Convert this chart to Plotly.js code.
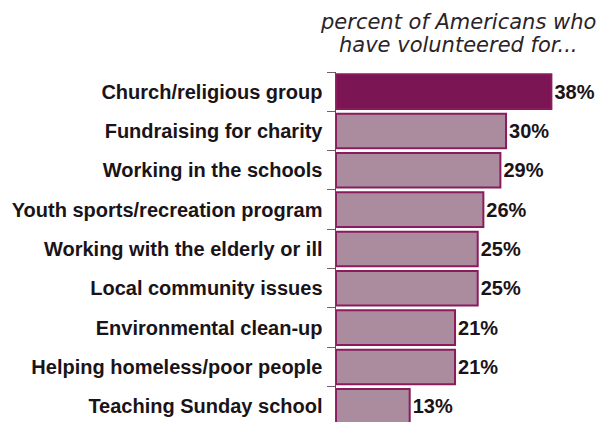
<!DOCTYPE html>
<html>
<head>
<meta charset="utf-8">
<script src="https://cdn.plot.ly/plotly-3.0.1.min.js"></script>
<style>html,body{margin:0;padding:0;background:#fff;}#chart{width:599px;height:422px;}</style>
</head>
<body>
<div id="chart"></div>
<script>
var categories = [
  "Church/religious group",
  "Fundraising for charity",
  "Working in the schools",
  "Youth sports/recreation program",
  "Working with the elderly or ill",
  "Local community issues",
  "Environmental clean-up",
  "Helping homeless/poor people",
  "Teaching Sunday school"
];
var percents = [38, 30, 29, 26, 25, 25, 21, 21, 13];
var valueLabels = percents.map(function(v){ return v + "%"; });
var titleLines = ["percent of Americans who", "have volunteered for..."];

var fills = percents.map(function(v, i){ return i === 0 ? "#7c1554" : "#ab8c9e"; });

var trace = {
  type: "bar",
  orientation: "h",
  y: categories,
  x: percents,
  text: valueLabels,
  textposition: "outside",
  cliponaxis: false,
  textfont: {family: "Liberation Sans, Arial, sans-serif", size: 20, color: "#1a1418", weight: "bold"},
  marker: {color: fills, line: {color: "#8a1b5c", width: 2}},
  width: 0.88,
  hoverinfo: "none"
};

var titleFont = {family: "DejaVu Sans, Verdana, sans-serif", size: 21, color: "#2a2428", style: "italic"};

var layout = {
  width: 599, height: 422,
  margin: {l: 336, r: 0, t: 72, b: 0},
  paper_bgcolor: "#ffffff", plot_bgcolor: "#ffffff",
  showlegend: false,
  xaxis: {range: [0, 46.4], visible: false, fixedrange: true},
  yaxis: {
    type: "category",
    range: [8.4, -0.5],
    showline: true, linecolor: "#5e4656", linewidth: 1.5,
    ticks: "outside", tickson: "boundaries", ticklen: 8, tickcolor: "#7a5a6e", tickwidth: 1,
    showgrid: false, zeroline: false,
    tickfont: {family: "Liberation Sans, Arial, sans-serif", size: 20, color: "#1a1418", weight: "bold"},
    ticklabelstandoff: 8
  },
  annotations: [
    {text: titleLines[0], xref: "paper", yref: "paper", x: 0.465, y: 1, yshift: 50, xanchor: "center", yanchor: "middle",
     showarrow: false, font: titleFont},
    {text: titleLines[1], xref: "paper", yref: "paper", x: 0.465, y: 1, yshift: 27, xanchor: "center", yanchor: "middle",
     showarrow: false, font: titleFont}
  ]
};

Plotly.newPlot("chart", [trace], layout, {displayModeBar: false, staticPlot: true});
</script>
</body>
</html>
